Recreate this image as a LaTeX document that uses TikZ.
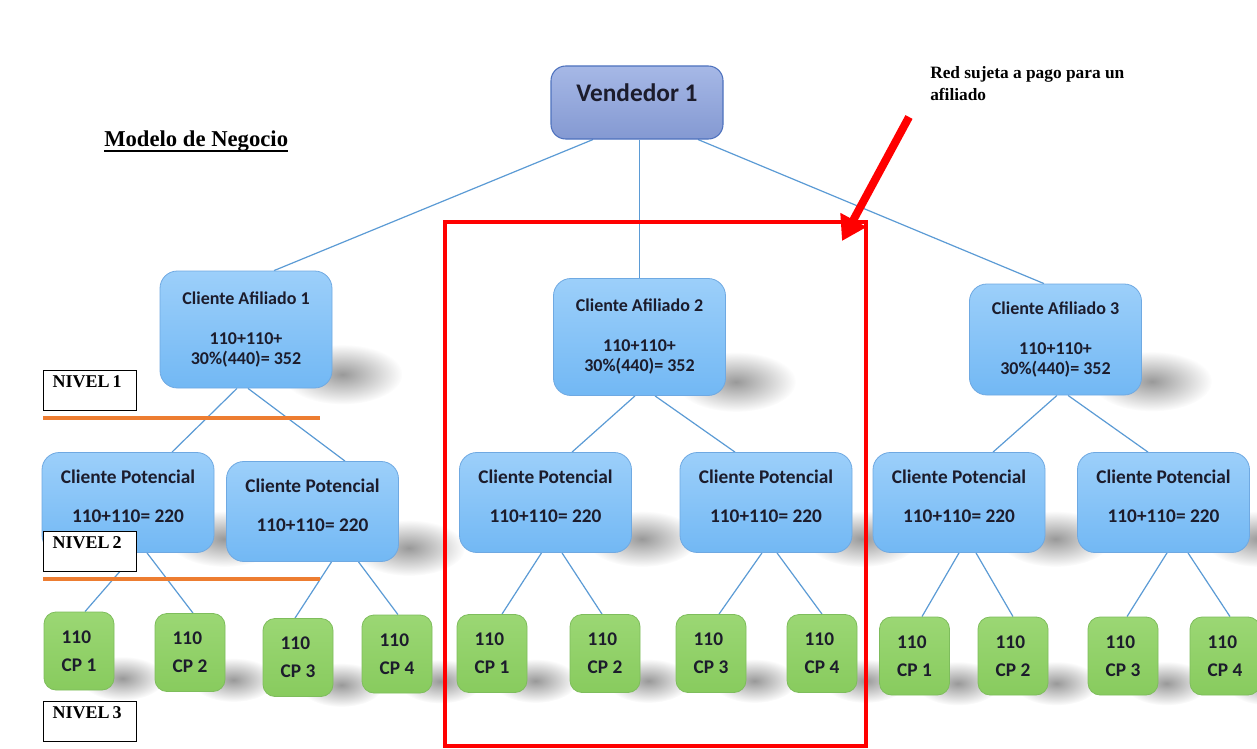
\documentclass[tikz,border=0pt]{standalone}
\usepackage{fontspec}
\setmainfont{Liberation Serif}
\newfontfamily\boxfont{Carlito}
\usetikzlibrary{calc,arrows.meta,fadings,backgrounds}

\definecolor{boxblueT}{HTML}{9CCFFA}
\definecolor{boxblueB}{HTML}{72B8F4}
\definecolor{boxblueD}{HTML}{6FA9E2}
\definecolor{boxgreenT}{HTML}{9BD774}
\definecolor{boxgreenB}{HTML}{88CB5E}
\definecolor{boxgreenD}{HTML}{7EBD5C}
\definecolor{vendT}{HTML}{A6B8E6}
\definecolor{vendB}{HTML}{8499D2}
\definecolor{vendD}{HTML}{4E72BE}
\definecolor{linkblue}{HTML}{5B9BD5}
\definecolor{boxtext}{HTML}{1C1C2C}
\definecolor{levelorange}{HTML}{ED7D31}
\definecolor{alertred}{HTML}{FF0000}

\tikzfading[name=softblob, inner color=transparent!20, outer color=transparent!100]

\tikzset{
  vendbox/.style={draw=vendD, line width=0.8pt,
      top color=vendT, bottom color=vendB, rounded corners=11pt,
      minimum width=129pt, minimum height=54.75pt, inner sep=0pt,
      text=boxtext, text height=13pt, text depth=15pt,
      font=\boxfont\bfseries\fontsize{19}{22}\selectfont},
  afbox/.style={draw=boxblueD, line width=0.6pt,
      top color=boxblueT, bottom color=boxblueB, rounded corners=13pt,
      minimum width=129pt, minimum height=87.75pt, inner sep=0pt,
      text=boxtext, align=center,
      font=\boxfont\bfseries\fontsize{13.5}{15}\selectfont},
  potbox/.style={draw=boxblueD, line width=0.6pt,
      top color=boxblueT, bottom color=boxblueB, rounded corners=13pt,
      minimum width=129pt, minimum height=75pt, inner sep=0pt,
      text=boxtext, align=center,
      font=\boxfont\bfseries\fontsize{14.5}{17.4}\selectfont},
  cpbox/.style={draw=boxgreenD, line width=0.6pt,
      top color=boxgreenT, bottom color=boxgreenB, rounded corners=9pt,
      minimum width=52.5pt, minimum height=58.5pt, inner sep=0pt,
      text=boxtext, align=left,
      font=\boxfont\bfseries\fontsize{14.5}{21}\selectfont},
  levelbox/.style={draw=black, line width=0.75pt, fill=white,
      text width=56pt, align=left, inner xsep=7pt, inner ysep=3pt,
      text height=10pt, text depth=14pt,
      font=\bfseries\fontsize{13.5}{15}\selectfont},
  link/.style={draw=linkblue, line width=0.9pt},
  levelline/.style={draw=levelorange, line width=3pt},
  boxshadow/.style={fill=black, fill opacity=0.5, path fading=softblob},
}

\newcommand{\potlabel}{Cliente Potencial\\[12pt]110+110= 220\\[-8.4pt]\mbox{}}

\begin{document}
\begin{tikzpicture}[x=0.75pt,y=-0.75pt]
\useasboundingbox (0,0) rectangle (1257,749);

% top seller
\node[vendbox] (v) at (637,102.5) {Vendedor 1};

% affiliated clients
\node[afbox] (a1) at (246,329.5) {Cliente Afiliado 1\\[15pt]110+110+\\30\%(440)= 352};
\node[afbox] (a2) at (639.5,337) {Cliente Afiliado 2\\[15pt]110+110+\\30\%(440)= 352};
\node[afbox, minimum height=83.25pt] (a3) at (1055.5,339.5) {Cliente Afiliado 3\\[15pt]110+110+\\30\%(440)= 352};

% potential clients
\node[potbox] (pl1) at (128,502.5) {\potlabel};
\node[potbox] (pl2) at (312.5,511.5) {\potlabel};
\node[potbox] (pm1) at (545.5,502.5) {\potlabel};
\node[potbox] (pm2) at (766,502.5) {\potlabel};
\node[potbox] (pr1) at (959,502.5) {\potlabel};
\node[potbox] (pr2) at (1163.5,502.5) {\potlabel};

% third level
\node[cpbox] (lc1) at (79,651) {110\\CP 1};
\node[cpbox] (lc2) at (190,652.5) {110\\CP 2};
\node[cpbox] (lc3) at (298,657.5) {110\\CP 3};
\node[cpbox] (lc4) at (397,654) {110\\CP 4};
\node[cpbox] (mc1) at (492,653.5) {110\\CP 1};
\node[cpbox] (mc2) at (605,653.5) {110\\CP 2};
\node[cpbox] (mc3) at (711,653.5) {110\\CP 3};
\node[cpbox] (mc4) at (822,653.5) {110\\CP 4};
\node[cpbox] (rc1) at (914.5,656) {110\\CP 1};
\node[cpbox] (rc2) at (1013,656) {110\\CP 2};
\node[cpbox] (rc3) at (1123,656) {110\\CP 3};
\node[cpbox] (rc4) at (1225,656) {110\\CP 4};

% level separators and tags
\coordinate (o1a) at (43,418);
\coordinate (o1b) at (320,418);
\coordinate (o2a) at (43,579);
\coordinate (o2b) at (320,579);
\draw[levelline] (o1a) -- (o1b);
\draw[levelline] (o2a) -- (o2b);
\node[levelbox] (n1) at (90,390) {NIVEL\,1};
\node[levelbox] (n2) at (90,551) {NIVEL\,2};
\node[levelbox] (n3) at (90,721.5) {NIVEL\,3};

% heading
\node[anchor=west, inner sep=0pt, font=\bfseries\fontsize{17}{20}\selectfont] (title) at (104,141) {Modelo de Negocio};
\draw[line width=1.6pt] ([yshift=-3.2pt]title.base west) -- ([yshift=-3.2pt]title.base east);

% note
\node[anchor=north west, align=left, inner sep=0pt,
      font=\bfseries\fontsize{13}{17}\selectfont] (note) at (930,66)
      {Red sujeta a pago para un\\afiliado};

% shadows and connectors behind the boxes
\begin{pgfonlayer}{background}
  \fill[white] (0,0) rectangle (1257,749);
  \foreach \n in {a1,a2,a3}
    \fill[boxshadow] ($(\n.south east)+(10,-14)$) ellipse [x radius=60, y radius=30];
  \foreach \n in {pl1,pl2,pm1,pm2,pr1,pr2}
    \fill[boxshadow] ($(\n.south east)+(10,-14)$) ellipse [x radius=56, y radius=28];
  \foreach \n in {lc1,lc2,lc3,lc4,mc1,mc2,mc3,mc4,rc1,rc2,rc3,rc4}
    \fill[boxshadow] ($(\n.south east)+(8,-12)$) ellipse [x radius=42, y radius=22];

  \draw[link] ($(v.south)+(-44,0)$) -- ($(a1.north)+(28,0)$);
  \draw[link] (a2.north |- v.south) -- (a2.north);
  \draw[link] ($(v.south)+(61,0)$) -- ($(a3.north)+(-11.5,0)$);

  \draw[link] ($(a1.south)+(-9,0)$) -- ($(pl1.north)+(44,0)$);
  \draw[link] ($(a1.south)+(2,0)$) -- ($(pl2.north)+(32.5,0)$);
  \draw[link] ($(a2.south)+(-4.5,0)$) -- ($(pm1.north)+(26.5,0)$);
  \draw[link] ($(a2.south)+(15.5,0)$) -- ($(pm2.north)+(-31,0)$);
  \draw[link] ($(a3.south)+(1.5,0)$) -- ($(pr1.north)+(34,0)$);
  \draw[link] ($(a3.south)+(12.5,0)$) -- ($(pr2.north)+(-15.5,0)$);

  \draw[link] ($(pl1.south)+(8,0)$) -- ($(lc1.north)+(6,0)$);
  \draw[link] ($(pl1.south)+(19,0)$) -- ($(lc2.north)+(3,0)$);
  \draw[link] ($(pl2.south)+(19,0)$) -- ($(lc3.north)+(-3,0)$);
  \draw[link] ($(pl2.south)+(46,0)$) -- ($(lc4.north)+(1,0)$);
  \draw[link] ($(pm1.south)+(-4,0)$) -- ($(mc1.north)+(10,0)$);
  \draw[link] ($(pm1.south)+(16.5,0)$) -- ($(mc2.north)+(-3,0)$);
  \draw[link] ($(pm2.south)+(-4,0)$) -- ($(mc3.north)+(8,0)$);
  \draw[link] ($(pm2.south)+(11,0)$) -- (mc4.north);
  \draw[link] (pr1.south) -- ($(rc1.north)+(7.5,0)$);
  \draw[link] ($(pr1.south)+(17,0)$) -- (rc2.north);
  \draw[link] ($(pr2.south)+(3.5,0)$) -- ($(rc3.north)+(4,0)$);
  \draw[link] ($(pr2.south)+(24.5,0)$) -- ($(rc4.north)+(5,0)$);
\end{pgfonlayer}

% paid network frame and pointer
\node[draw=alertred, line width=3pt, minimum width=315.75pt,
      minimum height=393pt, inner sep=0pt] (net) at (655.5,484) {};
\coordinate (arrtail) at (909,117);
\coordinate (arrtip) at (842,241);
\draw[alertred, line width=6pt, -{Triangle[length=18pt,width=21pt]}] (arrtail) -- (arrtip);
\end{tikzpicture}
\end{document}
